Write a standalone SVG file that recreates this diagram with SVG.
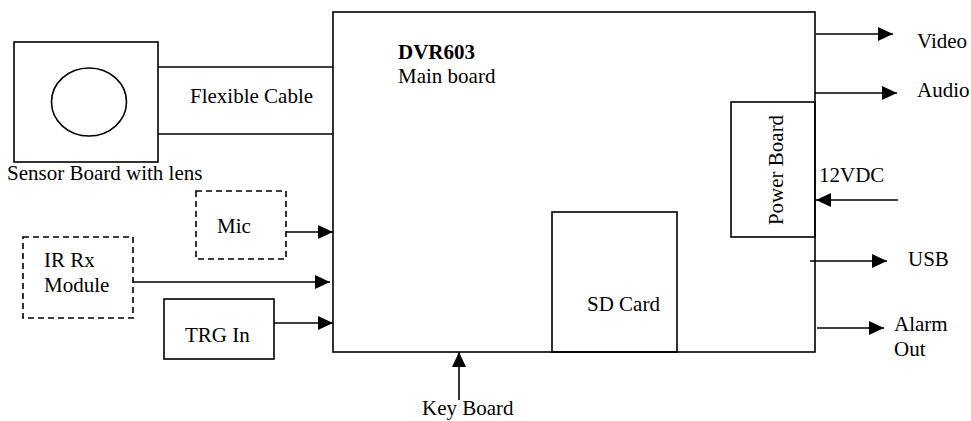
<svg xmlns="http://www.w3.org/2000/svg" width="971" height="421" viewBox="0 0 971 421">
<style>
.b{fill:none;stroke:#000;stroke-width:1.6}
.d{fill:none;stroke:#000;stroke-width:1.6;stroke-dasharray:6 4}
.c{fill:none;stroke:#000;stroke-width:1.6;marker-end:url(#ah)}
text{font-family:"Liberation Serif","Times New Roman",serif;font-size:21px;fill:#000}
.bold{font-weight:bold}
</style>
<defs>
<marker id="ah" markerUnits="userSpaceOnUse" markerWidth="15" markerHeight="14" refX="15" refY="7" orient="auto">
<path d="M0,0 L15,7 L0,14 Z" fill="#000"/>
</marker>
</defs>
<rect width="971" height="421" fill="#fff"/>
<g id="main-board">
<rect class="b" x="333" y="12" width="482" height="340"/>
<text class="bold" x="398" y="59">DVR603</text>
<text x="398" y="83">Main board</text>
</g>
<g id="sensor-board">
<rect class="b" x="14" y="42" width="144" height="120"/>
<ellipse class="b" cx="89" cy="102" rx="37.5" ry="34"/>
<text x="7" y="180">Sensor Board with lens</text>
</g>
<g id="flexible-cable">
<line class="b" x1="158" y1="67" x2="333" y2="67"/>
<line class="b" x1="158" y1="134" x2="333" y2="134"/>
<text x="190" y="103">Flexible Cable</text>
</g>
<g id="mic">
<rect class="d" x="196" y="191" width="90" height="68"/>
<text x="217" y="233">Mic</text>
</g>
<g id="ir-rx">
<rect class="d" x="23" y="237" width="110" height="81"/>
<text x="44" y="267">IR Rx</text>
<text x="44" y="292">Module</text>
</g>
<g id="trg-in">
<rect class="b" x="164" y="299" width="110" height="60"/>
<text x="185" y="342">TRG In</text>
</g>
<g id="power-board">
<rect class="b" x="731" y="102" width="84" height="135"/>
<text transform="translate(783,170) rotate(-90)" text-anchor="middle" x="0" y="0">Power Board</text>
</g>
<g id="sd-card">
<rect class="b" x="552" y="212" width="125" height="140"/>
<text x="587" y="311">SD Card</text>
</g>
<g id="labels">
<text x="917" y="48">Video</text>
<text x="917" y="97">Audio</text>
<text x="819" y="182">12VDC</text>
<text x="908" y="266">USB</text>
<text x="894" y="331">Alarm</text>
<text x="894" y="356">Out</text>
<text x="422" y="415">Key Board</text>
</g>
<g id="connectors">
<line class="c" x1="286" y1="232" x2="333" y2="232"/>
<line class="c" x1="133" y1="282" x2="330" y2="282"/>
<line class="c" x1="274" y1="323" x2="333" y2="323"/>
<line class="c" x1="816" y1="34" x2="893" y2="34"/>
<line class="c" x1="815" y1="93" x2="897" y2="93"/>
<line class="c" x1="898" y1="200" x2="816" y2="200"/>
<line class="c" x1="810" y1="261" x2="887" y2="261"/>
<line class="c" x1="817" y1="328" x2="884" y2="328"/>
<line class="c" x1="459" y1="400" x2="459" y2="352"/>
</g>
</svg>
